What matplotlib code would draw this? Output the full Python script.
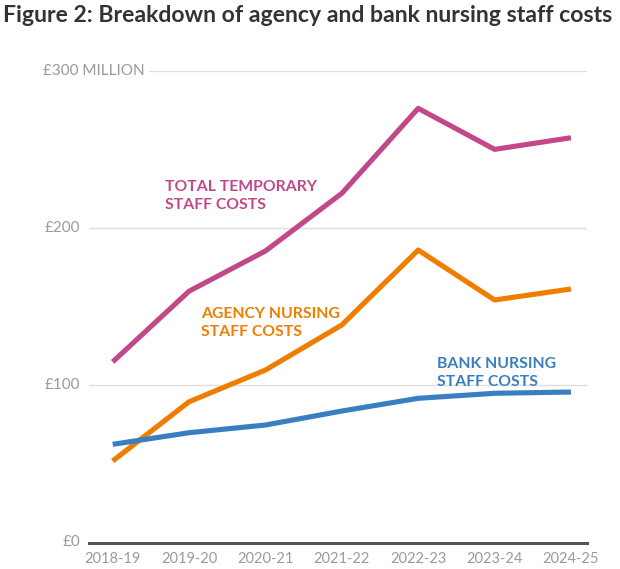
import matplotlib
matplotlib.use("Agg")
import matplotlib.pyplot as plt

years = ["2018-19", "2019-20", "2020-21", "2021-22", "2022-23", "2023-24", "2024-25"]
total_temp = [115, 160, 185.6, 222.3, 276.4, 250.3, 257.7]
agency = [51.9, 89.6, 109.8, 138.5, 186.2, 154.4, 161.4]
bank = [62.5, 69.9, 74.8, 83.7, 91.8, 95.0, 95.8]
y_ticks = [0, 100, 200, 300]
y_labels = ["£0", "£100", "£200", "£300"]

PINK = "#C2488A"
ORANGE = "#EF7D00"
BLUE = "#3A7EC2"
GREY = "#9A9A9A"

plt.rcParams["font.family"] = ["Lato", "DejaVu Sans"]

fig = plt.figure(figsize=(6.2, 5.69), dpi=100)
ax = fig.add_axes([89 / 620, 26.5 / 569, 498 / 620, 471.2 / 569])

x = list(range(len(years)))
for yv in y_ticks[1:]:
    ax.axhline(yv, color="#DEDEDE", lw=1.0, zorder=1)
ax.axhline(0, color="#555555", lw=2.2, zorder=1, clip_on=False)

ax.plot(x, total_temp, color=PINK, lw=3.7, solid_capstyle="butt", zorder=3)
ax.plot(x, agency, color=ORANGE, lw=3.7, solid_capstyle="butt", zorder=3)
ax.plot(x, bank, color=BLUE, lw=3.7, solid_capstyle="butt", zorder=4)

ax.set_xlim(-0.31, 6.21)
ax.set_ylim(0, 300)
for s in ax.spines.values():
    s.set_visible(False)
ax.set_yticks([])
ax.set_xticks(x)
ax.set_xticklabels(years, color=GREY, fontsize=10.5)
ax.tick_params(axis="x", length=0, pad=7)

# y labels, right aligned just left of the gridlines
for yv, lab in zip(y_ticks[:-1], y_labels[:-1]):
    fig.text(80 / 620, ax.transData.transform((0, yv))[1] / fig.bbox.height,
             lab, ha="right", va="center", color=GREY, fontsize=11)
top_y = ax.transData.transform((0, 300))[1] / fig.bbox.height
fig.text(43 / 620, top_y, "£300 MILLION", ha="left", va="center", color=GREY,
         fontsize=11, bbox=dict(facecolor="white", edgecolor="none", pad=3))

lab_kw = dict(fontsize=11.3, fontweight="bold", va="top", ha="left", linespacing=1.35)
ax.text(0.685, 231, "TOTAL TEMPORARY\nSTAFF COSTS", color=PINK, **lab_kw)
ax.text(1.157, 150, "AGENCY NURSING\nSTAFF COSTS", color=ORANGE, **lab_kw)
ax.text(4.25, 118, "BANK NURSING\nSTAFF COSTS", color=BLUE, **lab_kw)

fig.text(3 / 620, 1 - 15 / 569, "Figure 2: Breakdown of agency and bank nursing staff costs",
         ha="left", va="center", fontsize=16.6, fontweight="bold", color="#333333")

fig.savefig("out.png", dpi=100)
